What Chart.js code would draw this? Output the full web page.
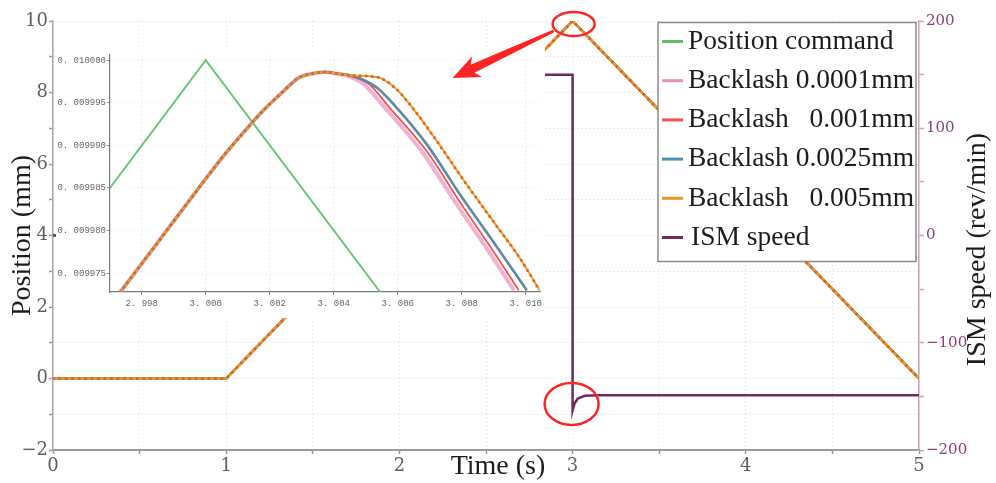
<!DOCTYPE html>
<html><head><meta charset="utf-8">
<script src="https://cdn.jsdelivr.net/npm/chart.js@4.4.1/dist/chart.umd.min.js"></script>
<style>
html,body{margin:0;padding:0;background:#fff;}
#wrap{position:relative;width:996px;height:483px;overflow:hidden;}
#main{position:absolute;left:0;top:0;}
#inset{position:absolute;left:56px;top:46px;}
</style></head><body>
<div id="wrap"><canvas id="main" width="996" height="483"></canvas><canvas id="inset" width="489" height="272"></canvas></div>
<script>
// ---------- main chart data ----------
const mainTime = [0, 1, 3, 5];
const positionCommand = [0, 0, 10, 0];
const backlash0001 = [0, 0, 10, 0];
const backlash001 = [0, 0, 10, 0];
const backlash0025 = [0, 0, 10, 0];
const backlash005 = [0, 0, 10, 0];
const ismTime = [0, 1, 1, 3, 3, 3.01, 3.03, 3.07, 3.15, 5];
const ismSpeed = [0, 0, 150, 150, -163, -157, -152, -149.5, -149, -149];

const mainXTicks = [0, 0.5, 1, 1.5, 2, 2.5, 3, 3.5, 4, 4.5, 5];
const mainXLabels = ['0', '', '1', '', '2', '', '3', '', '4', '', '5'];
const posTicks = [-2, -1, 0, 1, 2, 3, 4, 5, 6, 7, 8, 9, 10];
const posLabels = ['\u22122', '', '0', '', '2', '', '4', '', '6', '', '8', '', '10'];
const speedTicks = [-200, -150, -100, -50, 0, 50, 100, 150, 200];
const speedLabels = ['\u2212200', '', '\u2212100', '', '0', '', '100', '', '200'];

const seriesNames = ['Position command', 'Backlash 0.0001mm', 'Backlash   0.001mm', 'Backlash 0.0025mm', 'Backlash   0.005mm', 'ISM speed'];
const seriesColors = ['#5cbf66', '#ea92bd', '#f5504e', '#4f90b6', '#f0952e', '#6e2b60'];

// ---------- inset data (zoom around t = 3 s) ----------
const insetCmdT = [2.99701, 3.000, 3.00545];
const insetCmdV = [0.009985, 0.010000, 0.0099728];
const insetRiseT = [2.99733, 2.9985, 2.9995, 3.0005, 3.0012, 3.0018, 3.00247, 3.00289, 3.0033, 3.00372, 3.00413];
const insetRiseV = [0.0099728, 0.0099786, 0.0099836, 0.0099885, 0.0099916, 0.0099941, 0.0099965, 0.0099979, 0.0099984, 0.0099986, 0.0099984];
const insetPinkT = [3.0043, 3.0049, 3.00553, 3.00677, 3.0078, 3.00885, 3.00963];
const insetPinkV = [0.0099983, 0.0099973, 0.0099947, 0.0099892, 0.0099833, 0.0099775, 0.0099730];
const insetRedT = [3.00444, 3.0051, 3.00568, 3.00693, 3.00795, 3.009, 3.00978];
const insetRedV = [0.0099982, 0.0099972, 0.0099947, 0.0099892, 0.0099833, 0.0099775, 0.0099730];
const insetBlueT = [3.00454, 3.0048, 3.00537, 3.0059, 3.00693, 3.00795, 3.009, 3.01003];
const insetBlueV = [0.0099982, 0.0099979, 0.0099967, 0.0099947, 0.0099900, 0.0099842, 0.0099786, 0.0099730];
const insetOrangeT = [3.00454, 3.00537, 3.0059, 3.0064, 3.00724, 3.00795, 3.009, 3.00981, 3.01043];
const insetOrangeV = [0.0099982, 0.0099980, 0.0099968, 0.0099947, 0.0099904, 0.0099865, 0.0099810, 0.0099768, 0.0099730];

const insetXTicks = [2.998, 3.000, 3.002, 3.004, 3.006, 3.008, 3.010];
const insetXLabels = ['2. 998', '3. 000', '3. 002', '3. 004', '3. 006', '3. 008', '3. 010'];
const insetYTicks = [0.009975, 0.009980, 0.009985, 0.009990, 0.009995, 0.010000];
const insetYLabels = ['0. 009975', '0. 009980', '0. 009985', '0. 009990', '0. 009995', '0. 010000'];

// ---------- helpers ----------
const zip = (t, v) => t.map((x, i) => ({ x: x, y: v[i] }));
const SERIF = '"Liberation Serif", "Times New Roman", serif';
const NUMF = '"DejaVu Serif", serif';

const dotOverlay = {
  id: 'dotOverlay',
  afterDatasetDraw(chart, args) {
    const ds = chart.data.datasets[args.index];
    if (!ds.dotColor) return;
    const pts = args.meta.data, ctx = chart.ctx, a = chart.chartArea;
    ctx.save();
    ctx.beginPath(); ctx.rect(a.left, a.top, a.right - a.left, a.bottom - a.top); ctx.clip();
    ctx.beginPath();
    pts.forEach((p, i) => {
      if (!i) { ctx.moveTo(p.x, p.y); return; }
      const q = pts[i - 1];
      if (ds.cubicInterpolationMode === 'monotone' && q.cp2x !== undefined && p.cp1x !== undefined) {
        ctx.bezierCurveTo(q.cp2x, q.cp2y, p.cp1x, p.cp1y, p.x, p.y);
      } else ctx.lineTo(p.x, p.y);
    });
    ctx.setLineDash([0, ds.dotGap]); ctx.lineCap = 'round';
    ctx.lineWidth = ds.dotSize; ctx.strokeStyle = ds.dotColor; ctx.stroke();
    ctx.restore();
  }
};

let mainChart = null;
function drawAnnotations(ctx, ref, dx, dy) {
  if (!ref) return;
  const xs = ref.scales.x, yl = ref.scales.y, yr = ref.scales.yR;
  const px = xs.getPixelForValue(3);
  const c1x = px + 1 - dx, c1y = yl.getPixelForValue(10) + 3 - dy;
  const c2x = px - 1 - dx, c2y = yr.getPixelForValue(-157) - dy;
  ctx.save();
  ctx.strokeStyle = '#ff2424'; ctx.fillStyle = '#ff2424'; ctx.lineWidth = 2.5;
  ctx.beginPath(); ctx.ellipse(c1x, c1y, 21, 12, 0, 0, Math.PI * 2); ctx.stroke();
  ctx.beginPath(); ctx.ellipse(c2x, c2y, 27, 21, 0, 0, Math.PI * 2); ctx.stroke();
  // arrow
  const tx = c1x - 20, ty = c1y + 7, hx = c1x - 121, hy = c1y + 54;
  const len = Math.hypot(hx - tx, hy - ty), ux = (hx - tx) / len, uy = (hy - ty) / len;
  const nx = -uy, ny = ux;
  const nk = { x: hx - ux * 22, y: hy - uy * 22 };
  const P = (b, w, back) => [b.x + nx * w - ux * back, b.y + ny * w - uy * back];
  const pts = [
    P({ x: tx, y: ty }, 1.5, 0), P(nk, 4.5, 0), P(nk, 11.5, 5), [hx, hy],
    P(nk, -11.5, 5), P(nk, -4.5, 0), P({ x: tx, y: ty }, -1.5, 0)
  ];
  ctx.beginPath(); ctx.moveTo(pts[0][0], pts[0][1]);
  for (let i = 1; i < pts.length; i++) ctx.lineTo(pts[i][0], pts[i][1]);
  ctx.closePath(); ctx.fill();
  ctx.restore();
}

const mainDecor = {
  id: 'mainDecor',
  afterDraw(chart) {
    const ctx = chart.ctx, a = chart.chartArea;
    // legend
    const bx = a.right - 261, by = a.top + 1.5, bw = 258, bh = 239;
    ctx.save();
    ctx.fillStyle = '#fff'; ctx.fillRect(bx, by, bw, bh);
    ctx.strokeStyle = '#8a8a8a'; ctx.lineWidth = 1.5; ctx.strokeRect(bx, by, bw, bh);
    ctx.font = '27.5px ' + SERIF; ctx.textBaseline = 'middle'; ctx.fillStyle = '#1c1c1c';
    chart.data.datasets.forEach((ds, i) => {
      const y = by + 19 + i * 39.2;
      ctx.strokeStyle = ds.borderColor; ctx.lineWidth = 3;
      ctx.beginPath(); ctx.moveTo(bx + 4, y); ctx.lineTo(bx + 25, y); ctx.stroke();
      ctx.fillText(ds.label, bx + (i === 5 ? 33 : 30), y);
    });
    // x title
    ctx.font = '28px ' + SERIF; ctx.fillStyle = '#1c1c1c'; ctx.textAlign = 'center';
    ctx.fillText('Time (s)', 498, a.bottom + 17);
    // right title
    ctx.translate(978, (a.top + a.bottom) / 2 + 14); ctx.rotate(-Math.PI / 2);
    ctx.fillText('ISM speed (rev/min)', 0, 0);
    ctx.restore();
    drawAnnotations(ctx, chart, 0, 0);
  }
};

function lineDs(label, data, color, order, extra) {
  return Object.assign({ label: label, data: data, borderColor: color, backgroundColor: color,
    borderWidth: 2.5, pointRadius: 0, tension: 0, fill: false, order: order }, extra || {});
}

mainChart = new Chart(document.getElementById('main'), {
  type: 'line',
  data: {
    datasets: [
      lineDs(seriesNames[0], zip(mainTime, positionCommand), seriesColors[0], 6, { yAxisID: 'y' }),
      lineDs(seriesNames[1], zip(mainTime, backlash0001), seriesColors[1], 5, { yAxisID: 'y' }),
      lineDs(seriesNames[2], zip(mainTime, backlash001), seriesColors[2], 4, { yAxisID: 'y' }),
      lineDs(seriesNames[3], zip(mainTime, backlash0025), seriesColors[3], 3, { yAxisID: 'y' }),
      lineDs(seriesNames[4], zip(mainTime, backlash005), seriesColors[4], 2, { yAxisID: 'y', dotColor: '#d26a12', dotGap: 6.5, dotSize: 3 }),
      lineDs(seriesNames[5], zip(ismTime, ismSpeed), seriesColors[5], 1, { yAxisID: 'yR' })
    ]
  },
  options: {
    responsive: false, animation: false, devicePixelRatio: 1,
    layout: { padding: { top: 21, left: 0, right: 0, bottom: 0 } },
    plugins: { legend: { display: false }, tooltip: { enabled: false } },
    scales: {
      x: {
        type: 'linear', min: 0, max: 5,
        afterFit: s => { s.height = 33; },
        afterBuildTicks: s => { s.ticks = mainXTicks.map(v => ({ value: v })); },
        ticks: { autoSkip: false, maxRotation: 0, padding: 2, color: '#5e5e5e', font: { family: NUMF, size: 18 },
          callback: (v, i) => mainXLabels[i] },
        grid: { color: '#d6d6d6', tickLength: 4, tickColor: '#999', tickWidth: 1.5 },
        border: { color: '#9a9a9a', width: 2, dash: [1, 3] }
      },
      y: {
        position: 'left', min: -2, max: 10,
        afterFit: s => { s.width = 53; },
        afterBuildTicks: s => { s.ticks = posTicks.map(v => ({ value: v })); },
        ticks: { autoSkip: false, padding: 1, color: '#5e5e5e', font: { family: NUMF, size: 18 },
          callback: (v, i) => posLabels[i] },
        grid: { color: '#d6d6d6', tickLength: 4, tickColor: '#999', tickWidth: 1.5 },
        border: { color: '#a8a8a8', width: 1.5, dash: [1, 3] },
        title: { display: true, text: 'Position (mm)', color: '#1c1c1c', font: { family: SERIF, size: 28 }, padding: { top: 6, bottom: 0 } }
      },
      yR: {
        position: 'right', min: -200, max: 200,
        afterFit: s => { s.width = 77; },
        afterBuildTicks: s => { s.ticks = speedTicks.map(v => ({ value: v })); },
        ticks: { autoSkip: false, padding: 2, color: '#8a3f78', font: { family: NUMF, size: 15 },
          callback: (v, i) => speedLabels[i] },
        grid: { drawOnChartArea: false, tickLength: 5, tickColor: '#c9a3bf', tickWidth: 1.5 },
        border: { color: '#c9a3bf', width: 1.5 }
      }
    }
  },
  plugins: [dotOverlay, mainDecor]
});

// ---------- inset chart ----------
const insetDecor = {
  id: 'insetDecor',
  beforeDraw(chart) {
    const ctx = chart.ctx;
    ctx.save(); ctx.fillStyle = '#fff'; ctx.fillRect(0, 0, chart.width, chart.height); ctx.restore();
  },
  afterDraw(chart) {
    drawAnnotations(chart.ctx, mainChart, 56, 46);
  }
};

const smooth = { cubicInterpolationMode: 'monotone' };
new Chart(document.getElementById('inset'), {
  type: 'line',
  data: {
    datasets: [
      lineDs(seriesNames[0], zip(insetCmdT, insetCmdV), '#6cc675', 6, { borderWidth: 2 }),
      lineDs(seriesNames[1], zip(insetRiseT.concat(insetPinkT), insetRiseV.concat(insetPinkV)), 'rgba(238,160,198,0.8)', 5, Object.assign({ borderWidth: 4 }, smooth)),
      lineDs(seriesNames[2], zip(insetRiseT.concat(insetRedT), insetRiseV.concat(insetRedV)), '#f5504e', 4, Object.assign({ borderWidth: 1.8 }, smooth)),
      lineDs(seriesNames[3], zip(insetRiseT.concat(insetBlueT), insetRiseV.concat(insetBlueV)), '#5a8aa6', 3, Object.assign({ borderWidth: 2.6 }, smooth)),
      lineDs(seriesNames[4], zip(insetRiseT.concat(insetOrangeT), insetRiseV.concat(insetOrangeV)), '#f19a3a', 2, Object.assign({ borderWidth: 2, dotColor: '#d86a14', dotGap: 6, dotSize: 3 }, smooth))
    ]
  },
  options: {
    responsive: false, animation: false, devicePixelRatio: 1,
    layout: { padding: { top: 9, left: 0, right: 0, bottom: 0 } },
    plugins: { legend: { display: false }, tooltip: { enabled: false } },
    scales: {
      x: {
        type: 'linear', min: 2.99701, max: 3.01047,
        afterFit: s => { s.height = 26; },
        afterBuildTicks: s => { s.ticks = insetXTicks.map(v => ({ value: v })); },
        ticks: { autoSkip: false, maxRotation: 0, padding: 3, color: '#666', font: { family: '"Liberation Mono", monospace', size: 9 },
          callback: (v, i) => insetXLabels[i] },
        grid: { color: '#e2e2e2', tickLength: 3, tickColor: '#888' },
        border: { color: '#7a7a7a', width: 1.2, dash: [1, 3] }
      },
      y: {
        min: 0.0099728, max: 0.0100006,
        afterFit: s => { s.width = 54; },
        afterBuildTicks: s => { s.ticks = insetYTicks.map(v => ({ value: v })); },
        ticks: { autoSkip: false, padding: 1, color: '#666', font: { family: '"Liberation Mono", monospace', size: 9 },
          callback: (v, i) => insetYLabels[i] },
        grid: { color: '#e2e2e2', tickLength: 3, tickColor: '#888' },
        border: { color: '#7a7a7a', width: 1.2, dash: [1, 3] }
      }
    }
  },
  plugins: [dotOverlay, insetDecor]
});
</script>
</body></html>
